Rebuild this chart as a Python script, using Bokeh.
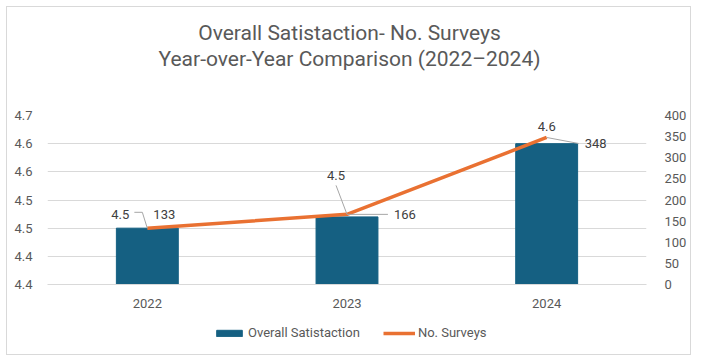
from bokeh.plotting import figure
from bokeh.layouts import column
from bokeh.models import (Range1d, LinearAxis, FixedTicker, FactorRange, Legend, LegendItem,
                          ColumnDataSource, Label)
from bokeh.embed import file_html
from bokeh.resources import INLINE
from bokeh.core.properties import value

years = ["2022", "2023", "2024"]
satisfaction = [4.45, 4.47, 4.60]
surveys = [133, 166, 348]
left_ticks = [4.35, 4.40, 4.45, 4.50, 4.55, 4.60, 4.65]
right_ticks = [0, 50, 100, 150, 200, 250, 300, 350, 400]
title_lines = ["Overall Satistaction- No. Surveys", "Year-over-Year Comparison (2022\u20132024)"]
series_names = ["Overall Satistaction", "No. Surveys"]

FONT = "Roboto"
GRAY = "#595959"
BAR = "#156082"
ORANGE = "#E97132"
W = 685
FRAME_LEFT = 40  # column aligns frames, so screen x in the helper figures starts here


def blank_fig(h):
    f = figure(width=W, height=h, x_range=Range1d(0, 1), y_range=Range1d(0, 1),
               x_axis_location=None, y_axis_location=None, output_backend="svg",
               toolbar_location=None, min_border=0)
    f.grid.visible = False
    f.outline_line_color = None
    f.background_fill_color = "white"
    f.border_fill_color = "white"
    return f


# ---- title area ----
top = blank_fig(90)
for txt, ypos in zip(title_lines, [65, 39]):
    top.add_layout(Label(x=342 - FRAME_LEFT, y=ypos, x_units="screen", y_units="screen", text=txt,
                         text_align="center", text_baseline="middle", text_font=FONT,
                         text_font_size="21px", text_color=GRAY))

# ---- main chart ----
p = figure(width=W, height=220, x_range=FactorRange(*years),
           y_range=Range1d(left_ticks[0], left_ticks[-1]),
           output_backend="svg", toolbar_location=None,
           min_border_left=40, min_border_right=44, min_border_top=18, min_border_bottom=33)
p.outline_line_color = None
p.background_fill_color = "white"
p.border_fill_color = "white"

p.extra_y_ranges = {"right": Range1d(right_ticks[0], right_ticks[-1])}

p.yaxis.ticker = FixedTicker(ticks=left_ticks)
p.yaxis.major_label_overrides = {t: f"{t + 0.001:.1f}" for t in left_ticks}
p.yaxis.axis_line_color = None
p.yaxis.major_tick_line_color = None
p.yaxis.minor_tick_line_color = None
p.yaxis.major_label_text_font = FONT
p.yaxis.major_label_text_font_size = "13px"
p.yaxis.major_label_text_color = GRAY
p.yaxis.major_label_standoff = 9

ra = LinearAxis(y_range_name="right", ticker=FixedTicker(ticks=right_ticks))
ra.axis_line_color = None
ra.major_tick_line_color = None
ra.minor_tick_line_color = None
ra.major_label_text_font = FONT
ra.major_label_text_font_size = "13px"
ra.major_label_text_color = GRAY
ra.major_label_standoff = 12
p.add_layout(ra, "right")

p.xaxis.axis_line_color = "#d9d9d9"
p.xaxis.major_tick_line_color = None
p.xaxis.minor_tick_line_color = None
p.xaxis.major_label_text_font = FONT
p.xaxis.major_label_text_font_size = "13px"
p.xaxis.major_label_text_color = GRAY
p.xaxis.major_label_standoff = 8

p.xgrid.grid_line_color = None
p.ygrid.grid_line_color = "#d9d9d9"
p.ygrid.grid_line_width = 1

src = ColumnDataSource(dict(
    x=years, sat=satisfaction, srv=surveys,
    sat_lbl=[f"{v:.1f}" for v in satisfaction],
    srv_lbl=[str(v) for v in surveys],
))

p.vbar(x="x", top="sat", bottom=left_ticks[0], width=0.31, color=BAR, source=src)
p.line(x="x", y="srv", line_color=ORANGE, line_width=3.5, y_range_name="right", source=src)

# leader lines (from data points with small offsets)
r_per_px = (right_ticks[-1] - right_ticks[0]) / 169.0
x_per_px = 1.0 / 200.0
lx0, ly0, lx1, ly1 = [], [], [], []
lx0 += [(years[0], -13 * x_per_px), (years[0], -5 * x_per_px)]
ly0 += [surveys[0] + 16 * r_per_px, surveys[0] + 16 * r_per_px]
lx1 += [(years[0], -5 * x_per_px), (years[0], 0.0)]
ly1 += [surveys[0] + 16 * r_per_px, surveys[0]]
lx0 += [(years[1], -11 * x_per_px), (years[1], 0.0)]
ly0 += [surveys[1] + 29 * r_per_px, surveys[1]]
lx1 += [(years[1], 0.0), (years[1], 41 * x_per_px)]
ly1 += [surveys[1], surveys[1]]
lx0 += [(years[2], 0.0)]
ly0 += [surveys[2]]
lx1 += [(years[2], 32 * x_per_px)]
ly1 += [surveys[2] - 6 * r_per_px]
p.segment(x0=lx0, y0=ly0, x1=lx1, y1=ly1, line_color="#a6a6a6", line_width=1, y_range_name="right")

lbl_color = "#404040"
sat_xoff = [-27, -11, 0]
sat_yoff = [-14, -39, -11]
for i in range(3):
    p.text(x=[years[i]], y=[surveys[i]], text=[src.data["sat_lbl"][i]], y_range_name="right",
           x_offset=sat_xoff[i], y_offset=sat_yoff[i], text_align="center", text_baseline="middle",
           text_font=value(FONT), text_font_size="13px", text_color=lbl_color)
srv_xoff = [6, 47, 38]
srv_yoff = [-14, 0, 6]
for i in range(3):
    p.text(x=[years[i]], y=[surveys[i]], text=[src.data["srv_lbl"][i]], y_range_name="right",
           x_offset=srv_xoff[i], y_offset=srv_yoff[i], text_align="left", text_baseline="middle",
           text_font=value(FONT), text_font_size="13px", text_color=lbl_color)

# ---- legend area (proxy glyphs sit outside the visible range) ----
leg = blank_fig(37)
proxy = ColumnDataSource(dict(x=[-5.0], y=[-5.0]))
lb = leg.vbar(x="x", top="y", bottom="y", width=0.1, color=BAR, source=proxy)
ll = leg.line(x="x", y="y", line_color=ORANGE, line_width=3.5, source=proxy)
legend = Legend(items=[LegendItem(label=series_names[0], renderers=[lb]),
                       LegendItem(label=series_names[1], renderers=[ll])],
                orientation="horizontal", location=(206 - FRAME_LEFT, 14),
                label_text_font=FONT, label_text_font_size="13px", label_text_color=GRAY,
                glyph_width=32, glyph_height=8, spacing=23, border_line_color=None,
                background_fill_alpha=0, label_standoff=3, padding=0, margin=0)
leg.add_layout(legend, "center")

layout = column(top, p, leg, spacing=0)
layout.styles = {"border": "1px solid #d9d9d9", "margin-left": "6px", "margin-top": "6px",
                 "width": f"{W}px"}

open("out.html", "w").write(file_html(layout, INLINE))
